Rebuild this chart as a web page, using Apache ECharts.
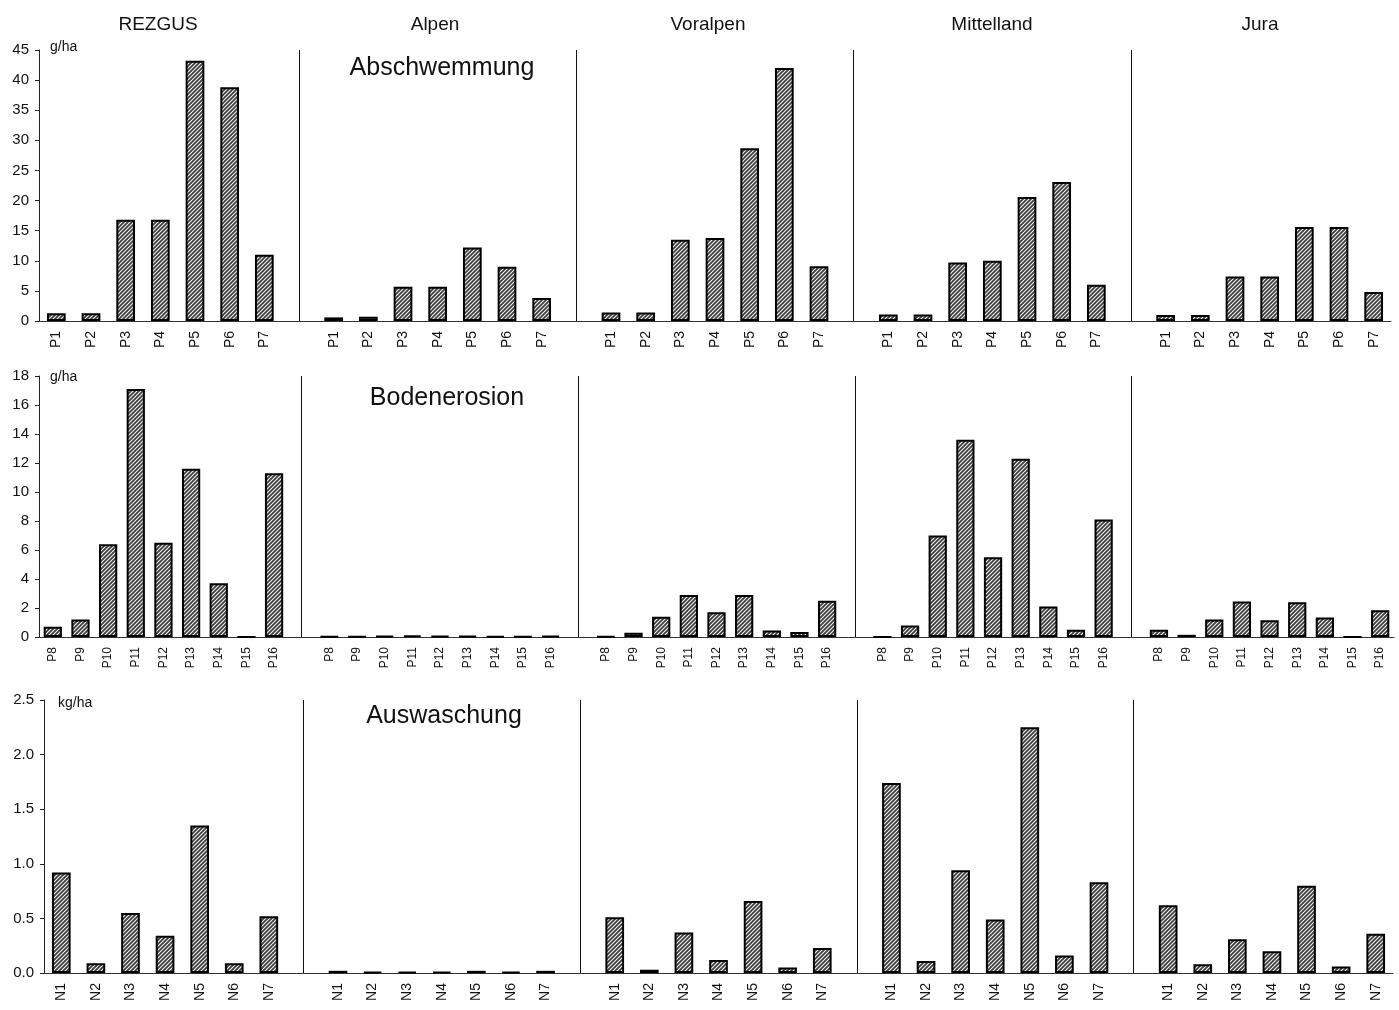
<!DOCTYPE html>
<html>
<head>
<meta charset="utf-8">
<script src="https://cdn.jsdelivr.net/npm/echarts@6/dist/echarts.min.js"></script>
<style>
html,body{margin:0;padding:0;background:#fff;}
#chart{width:1399px;height:1010px;}
</style>
</head>
<body>
<div id="chart"></div>
<script>
// ---- Data ----
const regions = ['REZGUS', 'Alpen', 'Voralpen', 'Mittelland', 'Jura'];
const rowTitles = ['Abschwemmung', 'Bodenerosion', 'Auswaschung'];
const units = ['g/ha', 'g/ha', 'kg/ha'];

const abschCats = ['P1', 'P2', 'P3', 'P4', 'P5', 'P6', 'P7'];
const erosionCats = ['P8', 'P9', 'P10', 'P11', 'P12', 'P13', 'P14', 'P15', 'P16'];
const auswCats = ['N1', 'N2', 'N3', 'N4', 'N5', 'N6', 'N7'];

const abschREZGUS     = [1.3, 1.3, 16.8, 16.8, 43.2, 38.8, 11.0];
const abschAlpen      = [0.6, 0.7, 5.7, 5.7, 12.2, 9.0, 3.8];
const abschVoralpen   = [1.4, 1.4, 13.5, 13.8, 28.7, 42.0, 9.1];
const abschMittelland = [1.1, 1.1, 9.7, 10.0, 20.6, 23.1, 6.0];
const abschJura       = [1.0, 1.0, 7.4, 7.4, 15.6, 15.6, 4.8];

const eroREZGUS     = [0.7, 1.2, 6.4, 17.1, 6.5, 11.6, 3.7, 0, 11.3];
const eroAlpen      = [0.02, 0.03, 0.06, 0.1, 0.06, 0.08, 0.05, 0.03, 0.08];
const eroVoralpen   = [0.03, 0.3, 1.4, 2.9, 1.7, 2.9, 0.45, 0.35, 2.5];
const eroMittelland = [0, 0.8, 7.0, 13.6, 5.5, 12.3, 2.1, 0.5, 8.1];
const eroJura       = [0.5, 0.15, 1.2, 2.45, 1.15, 2.4, 1.35, 0, 1.85];

const auswREZGUS     = [0.92, 0.09, 0.55, 0.34, 1.35, 0.09, 0.52];
const auswAlpen      = [0.02, 0.01, 0.01, 0.01, 0.02, 0.01, 0.02];
const auswVoralpen   = [0.51, 0.03, 0.37, 0.12, 0.66, 0.05, 0.23];
const auswMittelland = [1.74, 0.11, 0.94, 0.49, 2.25, 0.16, 0.83];
const auswJura       = [0.62, 0.08, 0.31, 0.20, 0.80, 0.06, 0.36];

const yMax = [45, 18, 2.5];
const yStep = [5, 2, 0.5];

// ---- Build ----
const rows = [
  {cats: abschCats, vals: [abschREZGUS, abschAlpen, abschVoralpen, abschMittelland, abschJura]},
  {cats: erosionCats, vals: [eroREZGUS, eroAlpen, eroVoralpen, eroMittelland, eroJura]},
  {cats: auswCats, vals: [auswREZGUS, auswAlpen, auswVoralpen, auswMittelland, auswJura]}
];

function makeHatch() {
  const c = document.createElement('canvas');
  c.width = 4; c.height = 4;
  const g = c.getContext('2d');
  g.fillStyle = '#3c3c3c';
  g.fillRect(0, 0, 4, 4);
  g.strokeStyle = '#f4f4f4';
  g.lineWidth = 1.1;
  g.beginPath();
  g.moveTo(-1, 5); g.lineTo(5, -1);
  g.moveTo(-3, 3); g.lineTo(3, -3);
  g.moveTo(1, 7); g.lineTo(7, 1);
  g.stroke();
  return c;
}
const hatch = makeHatch();
const FONT = '"Liberation Sans", Arial, Helvetica, sans-serif';

const layout = [
  {left: 39, right: 8, top: 50, bottom: 689, labelSize: 14, barWidth: '54%'},
  {left: 39, right: 5, top: 376, bottom: 373, labelSize: 12, barWidth: '66%'},
  {left: 44, right: 6, top: 700, bottom: 37, labelSize: 14, barWidth: '54%'}
];

const grids = [], xAxes = [], yAxes = [], series = [];
rows.forEach((row, r) => {
  const cats = [], data = [], gaps = [];
  row.vals.forEach((vals, i) => {
    row.cats.forEach((c, k) => { cats.push(c); data.push(vals[k]); });
    if (i < row.vals.length - 1) { gaps.push(cats.length); cats.push(''); data.push('-'); }
  });
  const L = layout[r];
  grids.push({left: L.left, right: L.right, top: L.top, bottom: L.bottom, containLabel: false});
  xAxes.push({
    gridIndex: r, type: 'category', data: cats, boundaryGap: true,
    axisLine: {show: true, lineStyle: {color: '#333', width: 1}},
    axisTick: {show: false},
    axisLabel: {rotate: 90, interval: 0, fontSize: L.labelSize, color: '#111', margin: 10, fontFamily: FONT}
  });
  yAxes.push({
    gridIndex: r, type: 'value', min: 0, max: yMax[r], interval: yStep[r],
    axisLine: {show: true, lineStyle: {color: '#222', width: 1}},
    axisTick: {show: true, length: 4, lineStyle: {color: '#222'}},
    splitLine: {show: false},
    axisLabel: {
      fontSize: 15, color: '#111', margin: 10, fontFamily: FONT,
      formatter: r === 2 ? (v => v.toFixed(1)) : (v => String(v))
    }
  });
  series.push({
    type: 'bar', xAxisIndex: r, yAxisIndex: r, data: data,
    barWidth: L.barWidth,
    itemStyle: {color: {image: hatch, repeat: 'repeat'}, borderColor: '#000', borderWidth: 2},
    markLine: {
      silent: true, symbol: 'none', animation: false,
      label: {show: false},
      lineStyle: {color: '#111', width: 1, type: 'solid'},
      data: gaps.map(g => ({xAxis: g}))
    }
  });
});

const headerX = [158, 435, 708, 992, 1260];
const titleX = [442, 447, 444];
const titleY = [68, 398, 716];
const unitPos = [[50, 47], [50, 377], [58, 703]];

const graphic = [];
regions.forEach((name, i) => graphic.push({
  type: 'text', x: headerX[i], y: 25,
  style: {text: name, fontSize: 19, fontFamily: FONT, fill: '#111', align: 'center', verticalAlign: 'middle'}
}));
rowTitles.forEach((t, i) => graphic.push({
  type: 'text', x: titleX[i], y: titleY[i],
  style: {text: t, fontSize: 25, fontFamily: FONT, fill: '#111', align: 'center', verticalAlign: 'middle'}
}));
units.forEach((u, i) => graphic.push({
  type: 'text', x: unitPos[i][0], y: unitPos[i][1],
  style: {text: u, fontSize: 14, fontFamily: FONT, fill: '#111', align: 'left', verticalAlign: 'middle'}
}));

const chart = echarts.init(document.getElementById('chart'), null, {renderer: 'canvas'});
chart.setOption({
  animation: false,
  backgroundColor: '#fff',
  grid: grids, xAxis: xAxes, yAxis: yAxes, series: series,
  graphic: graphic
});
</script>
</body>
</html>
